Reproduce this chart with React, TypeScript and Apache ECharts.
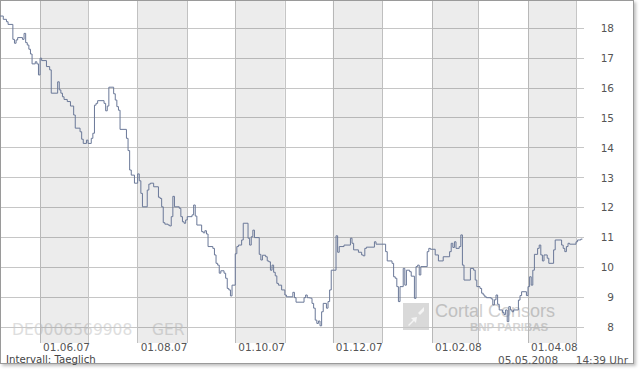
import React, { useEffect, useRef } from "react";
import * as echarts from "echarts";

// Daily closing prices (step line): [date, price]
const priceSeries: [string, number][] = [
  ["2007-05-07", 18.4], ["2007-05-09", 18.29], ["2007-05-11", 18.21], ["2007-05-12", 18.12],
  ["2007-05-15", 17.62], ["2007-05-16", 17.49], ["2007-05-17", 17.6], ["2007-05-18", 17.68],
  ["2007-05-21", 17.62], ["2007-05-22", 17.82], ["2007-05-23", 17.51], ["2007-05-24", 17.43],
  ["2007-05-25", 17.29], ["2007-05-26", 17.13], ["2007-05-27", 16.8], ["2007-05-29", 16.87],
  ["2007-05-30", 16.8], ["2007-05-31", 16.43],
  ["2007-06-01", 16.99], ["2007-06-02", 16.91], ["2007-06-05", 16.71], ["2007-06-07", 16.6],
  ["2007-06-08", 15.82], ["2007-06-12", 16.2], ["2007-06-13", 15.93], ["2007-06-14", 15.82],
  ["2007-06-15", 15.7], ["2007-06-16", 15.61], ["2007-06-18", 15.54], ["2007-06-20", 15.39],
  ["2007-06-22", 15.09], ["2007-06-23", 14.65], ["2007-06-26", 14.53], ["2007-06-27", 14.28],
  ["2007-06-28", 14.14], ["2007-06-30", 14.25],
  ["2007-07-01", 14.14], ["2007-07-03", 14.31], ["2007-07-04", 14.48], ["2007-07-05", 15.42],
  ["2007-07-06", 15.48], ["2007-07-07", 15.57], ["2007-07-11", 15.48], ["2007-07-12", 15.23],
  ["2007-07-13", 15.39], ["2007-07-14", 16.02], ["2007-07-17", 15.8], ["2007-07-18", 15.59],
  ["2007-07-19", 15.37], ["2007-07-20", 15.25], ["2007-07-21", 14.61], ["2007-07-25", 14.31],
  ["2007-07-26", 13.9], ["2007-07-27", 13.25], ["2007-07-28", 13.08], ["2007-07-30", 12.81],
  ["2007-08-01", 13.12], ["2007-08-02", 12.89], ["2007-08-03", 12.47], ["2007-08-04", 12.02],
  ["2007-08-07", 12.58], ["2007-08-08", 12.78], ["2007-08-09", 12.81], ["2007-08-11", 12.69],
  ["2007-08-14", 12.34], ["2007-08-15", 12.3], ["2007-08-16", 12.02], ["2007-08-17", 11.49],
  ["2007-08-18", 11.44], ["2007-08-20", 11.41], ["2007-08-21", 11.38], ["2007-08-22", 11.69],
  ["2007-08-23", 12.37], ["2007-08-24", 12.02], ["2007-08-27", 11.97], ["2007-08-28", 11.69],
  ["2007-08-29", 11.52], ["2007-08-30", 11.47], ["2007-08-31", 11.58],
  ["2007-09-01", 11.69], ["2007-09-04", 11.75], ["2007-09-05", 12.08], ["2007-09-06", 11.71],
  ["2007-09-07", 11.41], ["2007-09-10", 11.19], ["2007-09-11", 11.15], ["2007-09-12", 11.22],
  ["2007-09-13", 11.11], ["2007-09-14", 10.69], ["2007-09-17", 10.63], ["2007-09-18", 10.41],
  ["2007-09-19", 10.13], ["2007-09-20", 10.07], ["2007-09-21", 9.8], ["2007-09-22", 9.88],
  ["2007-09-24", 9.8], ["2007-09-25", 9.63], ["2007-09-26", 9.29], ["2007-09-27", 9.24],
  ["2007-09-28", 9.04], ["2007-09-29", 9.4],
  ["2007-10-01", 10.45], ["2007-10-02", 10.69], ["2007-10-03", 10.74], ["2007-10-05", 10.91],
  ["2007-10-06", 11.47], ["2007-10-09", 10.97], ["2007-10-10", 10.74], ["2007-10-11", 11.02],
  ["2007-10-12", 11.24], ["2007-10-13", 10.99], ["2007-10-16", 10.43], ["2007-10-17", 10.24],
  ["2007-10-18", 10.4], ["2007-10-20", 10.35], ["2007-10-21", 10.21], ["2007-10-22", 10.18],
  ["2007-10-23", 9.9], ["2007-10-24", 10.07], ["2007-10-25", 9.83], ["2007-10-26", 9.71],
  ["2007-10-27", 9.46], ["2007-10-28", 9.4], ["2007-10-30", 9.24],
  ["2007-11-01", 9.07], ["2007-11-02", 9.01], ["2007-11-06", 9.16], ["2007-11-07", 8.98],
  ["2007-11-08", 8.83], ["2007-11-13", 8.98], ["2007-11-14", 9.07], ["2007-11-15", 8.98],
  ["2007-11-16", 8.96], ["2007-11-18", 8.79], ["2007-11-19", 8.63], ["2007-11-20", 8.23],
  ["2007-11-21", 8.12], ["2007-11-22", 8.2], ["2007-11-23", 8.04], ["2007-11-24", 8.51],
  ["2007-11-25", 8.79], ["2007-11-27", 8.63], ["2007-11-28", 8.85], ["2007-11-29", 9.24],
  ["2007-11-30", 9.9],
  ["2007-12-03", 11.05], ["2007-12-04", 10.5], ["2007-12-05", 10.69], ["2007-12-08", 10.74],
  ["2007-12-12", 10.97], ["2007-12-13", 10.8], ["2007-12-14", 10.58], ["2007-12-17", 10.5],
  ["2007-12-19", 10.41], ["2007-12-20", 10.38], ["2007-12-21", 10.63], ["2007-12-22", 10.67],
  ["2007-12-27", 10.85], ["2007-12-28", 10.77],
  ["2008-01-03", 10.52], ["2008-01-04", 10.21], ["2008-01-07", 10.13], ["2008-01-08", 9.68],
  ["2008-01-09", 9.63], ["2008-01-10", 9.35], ["2008-01-11", 8.85], ["2008-01-12", 9.35],
  ["2008-01-14", 9.96], ["2008-01-15", 9.4], ["2008-01-16", 9.9], ["2008-01-18", 9.85],
  ["2008-01-19", 9.7], ["2008-01-21", 8.96], ["2008-01-22", 10.02], ["2008-01-23", 10.07],
  ["2008-01-24", 9.74], ["2008-01-25", 10.02], ["2008-01-29", 10.52], ["2008-01-30", 10.63],
  ["2008-01-31", 10.6],
  ["2008-02-03", 10.41], ["2008-02-05", 10.21], ["2008-02-08", 10.35], ["2008-02-12", 10.52],
  ["2008-02-13", 10.8], ["2008-02-14", 10.66], ["2008-02-15", 10.85], ["2008-02-16", 10.63],
  ["2008-02-18", 10.69], ["2008-02-19", 11.08], ["2008-02-20", 10.07], ["2008-02-21", 9.57],
  ["2008-02-25", 9.96], ["2008-02-27", 9.9], ["2008-02-28", 9.57], ["2008-02-29", 9.35],
  ["2008-03-02", 9.29], ["2008-03-03", 9.13], ["2008-03-04", 9.07], ["2008-03-05", 9.01],
  ["2008-03-06", 8.98], ["2008-03-09", 8.94], ["2008-03-10", 8.74], ["2008-03-11", 8.91],
  ["2008-03-12", 9.07], ["2008-03-13", 8.76], ["2008-03-14", 8.57], ["2008-03-16", 8.49],
  ["2008-03-17", 8.42], ["2008-03-18", 8.57], ["2008-03-19", 8.18], ["2008-03-20", 8.68],
  ["2008-03-21", 8.57], ["2008-03-22", 8.51], ["2008-03-23", 8.57], ["2008-03-26", 8.9],
  ["2008-03-27", 9.05], ["2008-03-28", 9.18], ["2008-03-31", 9.05],
  ["2008-04-01", 9.35], ["2008-04-02", 9.68], ["2008-04-03", 9.4], ["2008-04-04", 9.9],
  ["2008-04-05", 10.43], ["2008-04-07", 10.63], ["2008-04-08", 10.74], ["2008-04-09", 10.41],
  ["2008-04-10", 10.21], ["2008-04-11", 10.41], ["2008-04-13", 10.3], ["2008-04-14", 10.13],
  ["2008-04-17", 10.58], ["2008-04-18", 10.91], ["2008-04-22", 10.74], ["2008-04-23", 10.63],
  ["2008-04-24", 10.52], ["2008-04-25", 10.69], ["2008-04-26", 10.8], ["2008-04-27", 10.77],
  ["2008-05-01", 10.85], ["2008-05-02", 10.91], ["2008-05-04", 10.94], ["2008-05-05", 10.94],
];

const monthStarts = [
  "2007-06-01", "2007-07-01", "2007-08-01", "2007-09-01", "2007-10-01", "2007-11-01",
  "2007-12-01", "2008-01-01", "2008-02-01", "2008-03-01", "2008-04-01", "2008-05-01",
];
const labelMonths = ["2007-06-01", "2007-08-01", "2007-10-01", "2007-12-01", "2008-02-01", "2008-04-01"];
const shadedMonths: [string, string][] = [
  ["2007-06-01", "2007-07-01"], ["2007-08-01", "2007-09-01"], ["2007-10-01", "2007-11-01"],
  ["2007-12-01", "2008-01-01"], ["2008-02-01", "2008-03-01"], ["2008-04-01", "2008-05-01"],
];
const yTicks = [8, 9, 10, 11, 12, 13, 14, 15, 16, 17, 18];
const xMin = "2007-05-07T14:00:00Z";
const xMax = "2008-05-06T00:00:00Z";

const FONT = "DejaVu Sans";

function fmtDate(v: number): string {
  const d = new Date(v);
  const dd = String(d.getUTCDate()).padStart(2, "0");
  const mm = String(d.getUTCMonth() + 1).padStart(2, "0");
  const yy = String(d.getUTCFullYear() % 100).padStart(2, "0");
  return `${dd}.${mm}.${yy}`;
}

export default function App() {
  const ref = useRef<HTMLDivElement>(null);
  useEffect(() => {
    if (!ref.current) return;
    const chart = echarts.init(ref.current, undefined, { renderer: "svg" });
    const data = priceSeries.map(([d, v]) => [Date.parse(d), v]);
    chart.setOption({
      animation: false,
      backgroundColor: "transparent",
      grid: { left: 1, right: 56, top: 1, height: 342, containLabel: false },
      xAxis: {
        type: "value",
        min: Date.parse(xMin),
        max: Date.parse(xMax),
        axisLine: { show: false },
        axisTick: { show: false, customValues: monthStarts.map((d) => Date.parse(d)) },
        splitLine: { show: true, lineStyle: { color: "#c6c6c6", width: 1 } },
        axisLabel: {
          customValues: labelMonths.map((d) => Date.parse(d)),
          formatter: (v: number) => fmtDate(v),
          align: "left",
          verticalAlign: "middle",
          margin: 4,
          padding: [0, 0, 0, 3],
          lineHeight: 11,
          color: "#555",
          fontSize: 10.5,
          fontFamily: FONT,
        },
      },
      yAxis: {
        type: "value",
        position: "right",
        min: 7.465,
        max: 18.903,
        axisLine: { show: false },
        axisTick: { show: false, customValues: yTicks },
        splitLine: { show: true, lineStyle: { color: "#c6c6c6", width: 1 } },
        axisLabel: {
          customValues: yTicks,
          align: "right",
          margin: 30,
          color: "#555",
          fontSize: 10.5,
          fontFamily: FONT,
        },
      },
      series: [
        {
          type: "line",
          step: "end",
          data,
          symbol: "none",
          lineStyle: { color: "#6a7898", width: 1 },
          markArea: {
            silent: true,
            itemStyle: { color: "rgba(0,0,0,0.075)" },
            data: shadedMonths.map(([a, b]) => [{ xAxis: Date.parse(a) }, { xAxis: Date.parse(b) }]),
          },
        },
      ],
      graphic: [
        {
          type: "text", left: 12, top: 322, silent: true,
          style: { text: "DE0006569908", fill: "#dedede", fontSize: 15.5, fontFamily: FONT },
        },
        {
          type: "text", left: 152, top: 322, silent: true,
          style: { text: "GER", fill: "#dedede", fontSize: 15.5, fontFamily: FONT },
        },
        {
          type: "rect", silent: true,
          shape: { x: 403, y: 303, width: 26, height: 27 },
          style: { fill: "#d9d9d9" },
        },
        {
          type: "polyline", silent: true,
          shape: { points: [[408, 325], [413, 320], [411, 318], [417, 317], [416, 323], [414, 321], [409, 326]] },
          style: { fill: "#f4f4f4", stroke: "none" },
        },
        {
          type: "polyline", silent: true,
          shape: { points: [[418, 313], [424, 307], [424, 311], [420, 315]] },
          style: { fill: "#f4f4f4", stroke: "none" },
        },
        {
          type: "text", left: 435, top: 302, silent: true,
          style: { text: "Cortal Consors", fill: "#d0d0d0", fontSize: 18, fontFamily: "Liberation Sans" },
        },
        {
          type: "text", left: 470, top: 321, silent: true,
          style: { text: "BNP PARIBAS", fill: "#d6d6d6", fontSize: 11.5, fontWeight: "bold", fontFamily: "Liberation Sans" },
        },
        {
          type: "text", left: 6, top: 354, silent: true,
          style: { text: "Intervall: Taeglich", fill: "#444", fontSize: 10.2, fontFamily: FONT },
        },
        {
          type: "text", left: 498, top: 354, silent: true,
          style: { text: "05.05.2008", fill: "#555", fontSize: 10.5, fontFamily: FONT },
        },
        {
          type: "text", right: 12, top: 354, silent: true,
          style: { text: "14:39 Uhr", fill: "#555", fontSize: 10.5, fontFamily: FONT },
        },
      ],
    });
    return () => chart.dispose();
  }, []);

  return (
    <div style={{ position: "fixed", left: 0, top: 0, width: 640, height: 370, background: "#fff" }}>
      <div
        style={{
          position: "absolute", left: 0, top: 0, width: 634, height: 364,
          boxSizing: "border-box", border: "1px solid #9a9a9a", background: "#fff",
          boxShadow: "2px 2px 3px rgba(0,0,0,0.25)",
        }}
      />
      <div ref={ref} style={{ position: "absolute", left: 0, top: 0, width: 640, height: 370 }} />
    </div>
  );
}
